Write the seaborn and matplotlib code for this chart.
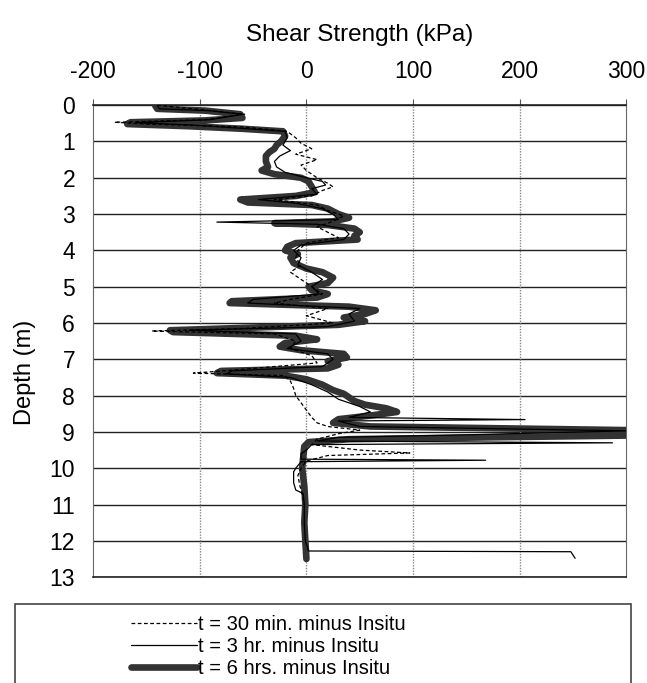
# Shear strength change with depth: three time steps minus in-situ
import numpy as np
import pandas as pd
import matplotlib
matplotlib.use('Agg')
import matplotlib.pyplot as plt
import seaborn as sns
from matplotlib.patches import Rectangle

# t = 30 min. minus Insitu (depth m, kPa)
depth_30min = [0.00, 0.15, 0.25, 0.40, 0.47, 0.52, 0.60, 0.72, 0.90, 1.05, 1.20, 1.35, 1.50, 1.65,
               1.80, 2.00, 2.15, 2.25, 2.35, 2.50, 2.60, 2.75, 2.90, 3.05, 3.20, 3.35, 3.50, 3.65,
               3.80, 4.00, 4.20, 4.40, 4.60, 4.80, 5.00, 5.20, 5.35, 5.45, 5.60, 5.80, 6.00, 6.15,
               6.22, 6.30, 6.50, 6.70, 6.90, 7.10, 7.30, 7.38, 7.45, 7.60, 7.80, 8.00, 8.20, 8.40,
               8.60, 8.75, 8.85, 8.95, 9.05, 9.20, 9.35, 9.50, 9.58, 9.65, 9.80, 10.00, 10.20,
               10.50, 10.70, 11.00]
shear_30min = [-140, -90, -58, -95, -180, -150, -60, -18, -10, -5, 5, -10, 10, -5,
               0, 10, 20, 25, 15, 5, -30, 10, 20, 35, 25, 10, 20, 30,
               0, -8, -10, -5, -15, -5, 5, 15, -15, -30, 20, 0, 25, -60,
               -145, -30, -10, -15, 5, 10, -70, -106, -20, -15, -12, -10, -5, 0,
               5, 10, 20, 50, 30, 10, 5, 50, 97, 20, 0, -5, -8,
               -6, -4, -2]

# t = 3 hr. minus Insitu
depth_3hr = [0.00, 0.10, 0.15, 0.25, 0.40, 0.48, 0.55, 0.65, 0.72, 0.90, 1.10, 1.25, 1.40, 1.55,
             1.70, 1.85, 2.00, 2.10, 2.20, 2.30, 2.45, 2.60, 2.70, 2.85, 3.00, 3.15, 3.22, 3.28,
             3.40, 3.55, 3.70, 3.85, 4.00, 4.20, 4.40, 4.60, 4.80, 5.00, 5.20, 5.35, 5.45, 5.60,
             5.75, 5.95, 6.10, 6.20, 6.30, 6.50, 6.70, 6.85, 7.00, 7.20, 7.32, 7.40, 7.50, 7.70,
             7.90, 8.10, 8.30, 8.45, 8.60, 8.66, 8.70, 8.85, 8.97, 9.08, 9.15, 9.25, 9.30, 9.35,
             9.50, 9.60, 9.75, 9.78, 9.82, 10.00, 10.10, 10.40, 10.60, 10.70, 11.00, 11.50,
             12.00, 12.28, 12.30, 12.48]
shear_3hr = [-140, -138, -92, -60, -90, -160, -105, -55, -20, -18, -22, -15, -25, -30,
             -28, -20, 0, 15, 18, 5, 10, -45, -10, 15, 25, 30, -84, 10,
             35, 40, 35, -5, -12, -5, -8, 5, 15, 5, 12, -50, -55, 50,
             40, 45, 20, -110, -10, -5, -18, 20, 25, 15, -70, -75, -15, 5,
             20, 30, 50, 60, 40, 205, 30, 50, 300, 150, 30, 10, 287, 5,
             0, -5, -5, 168, -5, -10, -12, -12, -10, -3, -2, -2,
             -1, 2, 248, 252]

# t = 6 hrs. minus Insitu
depth_6hr = [0.00, 0.10, 0.15, 0.25, 0.35, 0.42, 0.47, 0.52, 0.58, 0.65, 0.72, 0.85, 1.00, 1.10,
             1.20, 1.30, 1.40, 1.55, 1.70, 1.80, 1.90, 2.00, 2.10, 2.25, 2.40, 2.50, 2.60, 2.68,
             2.75, 2.85, 3.00, 3.10, 3.20, 3.25, 3.30, 3.40, 3.50, 3.60, 3.70, 3.80, 3.90, 4.00,
             4.10, 4.20, 4.35, 4.50, 4.60, 4.75, 4.90, 5.00, 5.10, 5.20, 5.30, 5.40, 5.45, 5.55,
             5.65, 5.75, 5.85, 5.95, 6.05, 6.20, 6.25, 6.35, 6.45, 6.55, 6.65, 6.75, 6.85, 6.95,
             7.05, 7.15, 7.25, 7.32, 7.38, 7.45, 7.55, 7.70, 7.85, 7.95, 8.05, 8.15, 8.25, 8.35,
             8.45, 8.55, 8.65, 8.75, 8.85, 8.95, 9.10, 9.20, 9.28, 9.40, 9.70, 10.00, 10.50,
             11.00, 11.50, 12.00, 12.50]
shear_6hr = [-142, -140, -95, -62, -60, -95, -165, -168, -110, -60, -22, -20, -24, -28,
             -30, -35, -38, -38, -36, -42, -30, -5, 2, 5, 8, -10, -62, -55,
             5, 20, 30, 40, 25, -30, 20, 45, 50, 45, 48, -10, -18, -20,
             -8, -15, -12, 0, 15, 25, 20, 2, 5, 20, 10, -70, -72, 40,
             65, 55, 35, 55, 30, -128, -125, -10, 10, -20, -25, -5, 35, 38,
             20, 30, 20, -80, -84, -20, 0, 15, 25, 35, 40, 45, 55, 75,
             85, 60, 30, 25, 60, 300, 300, 40, 2, -2, -3, -4, -2,
             -1, -2, -1, 0]

x_ticks = [-200, -100, 0, 100, 200, 300]
y_ticks = list(range(0, 14))

sns.set_style("white")
plt.rcParams['font.family'] = ['Liberation Sans', 'DejaVu Sans']
plt.rcParams['axes.unicode_minus'] = False
plt.rcParams['text.color'] = 'black'
plt.rcParams['axes.labelcolor'] = 'black'
plt.rcParams['xtick.labelcolor'] = 'black'
plt.rcParams['ytick.labelcolor'] = 'black'

fig = plt.figure(figsize=(6.47, 6.83), dpi=100)
ax = fig.add_axes([0.144, 0.155, 0.824, 0.691])

# thick line first, thin ones drawn on top
sns.lineplot(x=shear_6hr, y=depth_6hr, sort=False, estimator=None, ax=ax,
             color='#333333', linewidth=4.8, label='t = 6 hrs. minus Insitu', zorder=3)
sns.lineplot(x=shear_3hr, y=depth_3hr, sort=False, estimator=None, ax=ax,
             color='black', linewidth=0.9, label='t = 3 hr. minus Insitu', zorder=4)
sns.lineplot(x=shear_30min, y=depth_30min, sort=False, estimator=None, ax=ax,
             color='black', linewidth=0.9, linestyle=(0, (3, 2)),
             label='t = 30 min. minus Insitu', zorder=4)

ax.set_xlim(-200, 300)
ax.set_ylim(13, 0)
ax.set_xticks(x_ticks)
ax.set_yticks(y_ticks)
ax.xaxis.tick_top()
ax.xaxis.set_label_position('top')
ax.set_xlabel('Shear Strength (kPa)', fontsize=17.5, labelpad=14)
ax.set_ylabel('Depth (m)', fontsize=17)
ax.yaxis.label.set_verticalalignment('center')
ax.yaxis.set_label_coords(-0.128, 0.434)
ax.tick_params(axis='both', labelsize=16.5, length=4, width=0.8, color='#555555',
               labelcolor='black', direction='out')
ax.tick_params(axis='x', pad=12)
ax.tick_params(axis='y', pad=9)

# gridlines: solid horizontal, dotted vertical
for d in y_ticks:
    ax.axhline(d, color='#222222', linewidth=1.0, zorder=1)
for v in x_ticks[1:-1]:
    ax.axvline(v, color='#888888', linewidth=1.0, linestyle=(0, (1, 1)), zorder=1)

for side in ['left', 'right']:
    ax.spines[side].set_linestyle((0, (1, 1)))
    ax.spines[side].set_color('#666666')
for side in ['top', 'bottom']:
    ax.spines[side].set_color('#222222')
    ax.spines[side].set_linewidth(1.2)

# legend below the plot, in a wide box
handles, labels = ax.get_legend_handles_labels()
ax.get_legend().remove()
order = [2, 1, 0]
fig.add_artist(Rectangle((0.023, -0.01), 0.952, 0.125, transform=fig.transFigure,
                         fill=False, edgecolor='#444444', linewidth=1.2))
fig.legend([handles[i] for i in order], [labels[i] for i in order],
           loc='center', bbox_to_anchor=(0.415, 0.053), frameon=False, fontsize=14.5,
           handlelength=3.3, handletextpad=0.05, labelspacing=0.15)

fig.savefig('out.png', dpi=100)
